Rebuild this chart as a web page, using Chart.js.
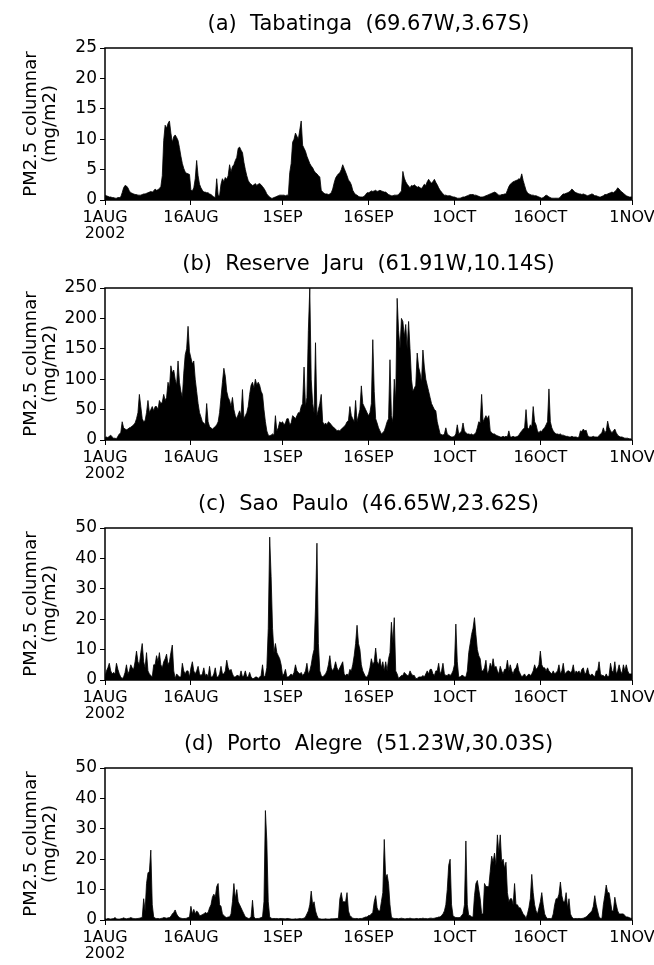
<!DOCTYPE html>
<html>
<head>
<meta charset="utf-8">
<script src="https://cdn.jsdelivr.net/npm/chart.js@4.4.1/dist/chart.umd.min.js"></script>
<style>
  body { margin: 0; background: #fff; overflow: hidden; }
  .panel { position: absolute; left: 0; width: 654px; height: 252px; }
</style>
</head>
<body>
<div class="panel" style="top:0px"><canvas id="pA" width="654" height="252"></canvas></div>
<div class="panel" style="top:240px"><canvas id="pB" width="654" height="252"></canvas></div>
<div class="panel" style="top:480px"><canvas id="pC" width="654" height="252"></canvas></div>
<div class="panel" style="top:720px"><canvas id="pD" width="654" height="252"></canvas></div>
<script>
// 6-hourly samples, 1 AUG 2002 00Z .. 1 NOV 2002 00Z (4 per day, one row per day)
const STEP = 0.25; // days per sample

const tickDays = [0, 15, 31, 46, 61, 76, 92];
const tickLabels = [['1AUG', '2002'], '16AUG', '1SEP', '16SEP', '1OCT', '16OCT', '1NOV'];

const titles = [
  '(a)  Tabatinga  (69.67W,3.67S)',
  '(b)  Reserve  Jaru  (61.91W,10.14S)',
  '(c)  Sao  Paulo  (46.65W,23.62S)',
  '(d)  Porto  Alegre  (51.23W,30.03S)'
];

const yMax = [25, 250, 50, 50];
const yStep = [5, 50, 10, 10];

const tabatinga = [
  0.8, 0.7, 0.6, 0.5,  0.5, 0.4, 0.4, 0.3,  0.3, 0.4, 0.4, 0.5,  1.2, 2.0, 2.4, 2.3,
  2.0, 1.5, 1.2, 1.1,  1.0, 0.9, 0.9, 0.8,  0.8, 0.8, 0.9, 1.0,  1.0, 1.1, 1.2, 1.3,
  1.4, 1.3, 1.5, 1.8,  1.6, 1.7, 1.9, 2.2,  4.0, 9.8, 12.3, 11.8,  12.6, 13.0, 11.0, 9.5,
  10.4, 10.7, 10.3, 9.8,  8.6, 7.2, 6.0, 5.2,  4.6, 4.4, 4.3, 4.2,  1.6, 1.5, 2.0, 3.5,
  6.5, 4.0, 2.6, 2.0,  1.6, 1.3, 1.3, 1.2,  1.2, 1.0, 0.9, 0.7,  0.5, 0.4, 3.5, 0.8,
  0.7, 2.6, 3.5, 3.0,  3.7, 3.4, 4.0, 5.8,  4.6, 5.5, 5.8, 6.5,  7.0, 8.5, 8.7, 8.2,
  7.8, 6.2, 5.0, 4.0,  3.2, 2.8, 2.6, 2.4,  2.5, 2.7, 2.4, 2.6,  2.7, 2.5, 2.2, 1.9,
  1.5, 1.0, 0.7, 0.5,  0.3, 0.3, 0.4, 0.5,  0.6, 0.7, 0.8, 0.8,  0.8, 0.8, 0.7, 0.8,
  0.8, 4.5, 6.0, 9.5,  10.0, 11.0, 10.5, 10.0,  11.5, 13.0, 9.0, 8.5,  8.0, 7.2, 6.6, 6.0,
  5.6, 5.3, 4.8, 4.5,  4.3, 4.0, 3.8, 1.6,  1.3, 1.1, 1.0, 1.0,  0.9, 1.0, 1.2, 1.8,
  2.8, 3.6, 4.0, 4.3,  4.5, 5.0, 5.8, 5.2,  4.6, 4.0, 3.3, 3.0,  2.5, 1.6, 1.2, 0.9,
  0.8, 0.6, 0.5, 0.5,  0.5, 0.6, 0.9, 1.2,  1.2, 1.3, 1.5, 1.4,  1.5, 1.6, 1.4, 1.5,
  1.6, 1.5, 1.4, 1.3,  1.3, 1.1, 0.9, 0.8,  0.7, 0.7, 0.8, 0.8,  0.8, 0.9, 1.2, 1.5,
  4.7, 3.6, 3.0, 2.6,  2.3, 2.0, 2.4, 2.3,  2.5, 2.3, 2.1, 2.2,  2.0, 1.9, 2.2, 2.6,
  2.4, 3.0, 3.4, 3.0,  2.8, 3.0, 3.4, 2.9,  2.5, 2.0, 1.6, 1.3,  1.0, 0.8, 0.8, 0.7,
  0.7, 0.7, 0.6, 0.5,  0.5, 0.4, 0.3, 0.3,  0.3, 0.4, 0.5, 0.5,  0.6, 0.7, 0.8, 0.9,
  0.9, 0.9, 0.8, 0.8,  0.7, 0.6, 0.5, 0.5,  0.5, 0.6, 0.7, 0.8,  0.9, 1.0, 1.1, 1.2,
  1.3, 1.2, 1.0, 0.8,  0.8, 0.9, 0.9, 1.0,  1.0, 1.6, 2.2, 2.6,  2.8, 3.0, 3.1, 3.2,
  3.3, 3.5, 3.4, 4.3,  3.2, 2.4, 1.6, 1.2,  1.0, 0.9, 0.8, 0.8,  0.7, 0.7, 0.6, 0.5,
  0.4, 0.3, 0.4, 0.6,  0.8, 0.7, 0.5, 0.4,  0.3, 0.3, 0.3, 0.3,  0.3, 0.3, 0.5, 0.8,
  1.0, 1.0, 1.1, 1.2,  1.3, 1.5, 1.8, 1.6,  1.3, 1.2, 1.1, 1.0,  1.0, 0.9, 1.0, 0.9,
  0.8, 0.7, 0.8, 0.9,  1.0, 0.9, 0.7, 0.7,  0.6, 0.5, 0.5, 0.6,  0.7, 0.9, 0.9, 1.0,
  1.1, 1.2, 1.3, 1.2,  1.4, 1.6, 2.0, 1.8,  1.5, 1.3, 1.1, 0.9,  0.7, 0.6, 0.5, 0.5,
  0.5
];

const reserveJaru = [
  4, 5, 4, 6,  8, 5, 3, 3,  2, 6, 10, 12,  30, 20, 18, 17,
  18, 20, 21, 23,  25, 28, 35, 45,  75, 55, 35, 30,  32, 45, 65, 45,
  50, 55, 48, 55,  55, 50, 65, 60,  62, 75, 65, 70,  95, 85, 122, 110,
  115, 100, 90, 130,  95, 80, 70, 110,  140, 150, 187, 145,  135, 125, 130, 100,
  80, 60, 45, 38,  30, 28, 25, 60,  30, 22, 20, 18,  20, 22, 25, 30,
  45, 70, 95, 118,  105, 80, 70, 65,  55, 70, 50, 40,  35, 42, 48, 40,
  83, 35, 40, 45,  55, 75, 90, 95,  85, 100, 90, 95,  90, 80, 75, 50,
  30, 15, 8, 7,  8, 10, 8, 40,  15, 20, 30, 28,  30, 25, 28, 35,
  35, 25, 28, 40,  38, 35, 40, 45,  45, 55, 60, 120,  55, 70, 180, 250,
  100, 60, 45, 160,  40, 50, 60, 75,  30, 25, 28, 25,  30, 28, 25, 22,
  20, 18, 15, 16,  15, 18, 20, 22,  25, 30, 32, 55,  40, 35, 30, 65,
  30, 40, 50, 89,  60, 55, 50, 45,  40, 45, 60, 165,  80, 35, 28, 20,
  15, 10, 12, 15,  22, 30, 35, 132,  40, 30, 100, 65,  233, 180, 150, 200,
  195, 170, 190, 150,  195, 150, 100, 80,  85, 90, 143, 120,  110, 95, 148, 120,
  100, 90, 80, 70,  60, 55, 50, 48,  30, 20, 10, 9,  8, 10, 20, 10,
  8, 6, 5, 5,  6, 10, 25, 10,  12, 15, 28, 15,  12, 10, 10, 9,
  10, 8, 10, 12,  20, 30, 28, 75,  30, 35, 40, 35,  40, 15, 12, 10,
  10, 8, 7, 6,  5, 5, 6, 5,  6, 5, 15, 5,  5, 6, 5, 5,
  6, 8, 12, 15,  18, 20, 50, 20,  18, 25, 22, 55,  30, 25, 15, 12,
  15, 14, 18, 20,  25, 30, 84, 30,  20, 15, 12, 10,  10, 9, 10, 8,
  8, 7, 6, 6,  5, 5, 6, 5,  5, 5, 4, 5,  15, 14, 18, 15,
  16, 8, 5, 5,  5, 6, 5, 5,  5, 7, 10, 12,  20, 12, 15, 31,
  20, 15, 12, 15,  18, 12, 8, 6,  5, 5, 4, 3,  3, 3, 2, 2,
  1
];

const saoPaulo = [
  1, 3, 4, 5.5,  3, 2, 2.5, 2,  5.5, 3.5, 2, 1,  0.5, 1, 2.5, 5,
  2, 3, 5, 4,  3.5, 6, 9.5, 6,  5, 9, 12, 6,  4, 9, 3, 2,
  1.5, 1, 5, 5,  8, 6, 9, 5,  4, 6, 7, 8.5,  5, 6, 9, 11.5,
  3, 0.5, 2, 1.5,  1, 1, 5.5, 3,  2, 3, 3, 1,  4, 6, 3, 2,
  3, 4.5, 2, 1.5,  2, 4, 1.5, 2,  1, 4.5, 1, 1,  2, 4, 1, 1,
  2, 4.5, 2, 2,  3, 6.5, 4, 3,  3.5, 2, 1, 1,  1.5, 1.5, 1, 3,
  1, 1.5, 3, 1,  1, 2.5, 1, 0.5,  0.5, 1, 1, 0.5,  1, 1.5, 5, 1,
  1.5, 4, 17, 47,  34, 17, 9, 12,  9, 8, 7, 5,  1.5, 2, 3.5, 1,
  1, 1.5, 2, 1.5,  2.5, 5, 3, 2.5,  2, 2.5, 1.5, 2,  3, 5.5, 2, 3,
  5, 8, 10, 24,  45, 12, 3, 1.5,  1, 1.5, 2, 3,  5, 8, 4, 3,
  4, 6, 4, 3,  4, 5, 6, 2,  1.5, 2, 1.5, 3.5,  3, 5, 8, 12,
  18, 12, 10, 5,  3, 2, 1, 1,  2, 4, 7, 5,  6, 10.5, 6, 5,
  7, 4, 6, 3,  6, 3, 7, 9,  19, 12, 20.5, 3,  2, 0.5, 1, 1.5,
  1.5, 2.5, 2, 1.5,  1.5, 3, 2, 1.5,  1.5, 0.5, 0.5, 1,  1, 1, 1.5, 1,
  2, 3, 2, 3.5,  3.5, 2, 1.5, 3,  3, 5.5, 2, 3,  5.5, 2, 1.5, 1.5,
  2, 1.5, 2, 3,  5, 18.4, 6, 1,  1, 1.5, 1.5, 1,  1, 3, 9, 12,
  15, 17, 20.5, 15,  10, 8, 7, 3,  3, 4, 6.5, 2,  3, 5.5, 4, 7,
  4, 4.5, 3, 2,  4.5, 3, 2, 3.5,  3.5, 6.5, 3, 5,  3, 2, 3.5, 4,
  5.5, 3, 2, 1,  1.5, 2, 1, 1.5,  2, 1.5, 2, 3,  5, 3.5, 4, 5,
  9.5, 5, 4, 4,  3, 4, 3, 2.5,  2, 3, 2, 2.5,  3, 5, 2, 3,
  5.5, 2, 2.5, 3,  3, 2.5, 3, 5,  2, 3, 2.5, 3,  2, 3.5, 4, 2,
  2.5, 4, 2, 1.5,  2, 1.5, 1, 3,  3, 6, 2, 1.5,  1.5, 1, 2, 1,
  1.5, 5.5, 3, 2.5,  6, 2, 3, 5,  3, 2, 5, 3,  5, 3, 2, 2,
  2
];

const portoAlegre = [
  0.4, 0.3, 0.5, 0.4,  0.3, 0.4, 0.5, 0.8,  0.4, 0.3, 0.3, 0.4,  0.5, 0.7, 0.5, 0.4,
  0.5, 0.6, 0.8, 0.6,  0.5, 0.4, 0.5, 0.5,  0.6, 0.7, 0.8, 7,  3, 12, 15.5, 16,
  23, 5, 1, 0.6,  0.5, 0.5, 0.4, 0.5,  0.6, 0.8, 0.7, 0.6,  0.7, 0.8, 1.2, 2,
  2.5, 3.3, 2, 1.2,  0.8, 0.6, 0.5, 0.5,  0.5, 0.6, 0.8, 1,  4.5, 2, 3.5, 2,
  3, 2.5, 1.5, 1.5,  1.8, 2, 2.5, 2.2,  2.5, 4, 5, 7.5,  8.5, 7.5, 11, 12,
  5, 4.5, 2, 1.5,  1, 0.8, 1, 1,  2, 6, 12, 7,  10, 6, 5, 4,
  3, 2, 1, 0.8,  0.5, 0.6, 1, 6.5,  1, 0.5, 0.5, 0.5,  0.6, 0.8, 1, 6,
  36, 26, 6, 1,  0.6, 0.5, 0.5, 0.5,  0.5, 0.4, 0.5, 0.5,  0.5, 0.4, 0.4, 0.5,
  0.5, 0.4, 0.3, 0.3,  0.3, 0.4, 0.3, 0.4,  0.5, 0.4, 0.5, 0.6,  1, 2, 3, 5,
  9.5, 5, 6, 3,  1.5, 0.5, 0.4, 0.3,  0.3, 0.3, 0.4, 0.3,  0.3, 0.3, 0.4, 0.4,
  0.4, 0.5, 0.5, 0.6,  7, 9, 6, 6,  6, 9, 3, 1.5,  1, 0.6, 0.5, 0.5,
  0.5, 0.4, 0.5, 0.5,  0.6, 0.8, 1, 1,  1.5, 1.5, 2, 2.5,  6, 8, 4, 3,
  3, 6, 9, 26.5,  14, 15, 12, 5,  1, 0.6, 0.5, 0.5,  0.5, 0.4, 0.5, 0.6,
  0.5, 0.4, 0.4, 0.5,  0.5, 0.6, 0.5, 0.4,  0.4, 0.5, 0.5, 0.4,  0.5, 0.5, 0.6, 0.5,
  0.5, 0.4, 0.5, 0.6,  0.6, 0.5, 0.6, 0.7,  0.8, 1, 1, 1.5,  2, 3, 5, 10,
  18, 20, 5, 1.5,  1, 0.8, 0.8, 0.8,  0.8, 1.5, 2, 5,  26, 5, 1.5, 1.5,
  1, 1, 8, 12,  13, 10, 7, 2,  2, 12, 11, 11,  11, 16, 21, 19,
  22, 18, 28, 22,  28, 19, 20, 17,  19, 9, 6, 7,  7, 5, 12, 5,
  5, 4, 4, 3,  2, 1.5, 0.5, 2,  4, 7, 15, 9,  5, 3, 2, 4,
  6, 9, 5, 2,  1, 0.5, 0.5, 0.5,  0.5, 2, 5, 7,  7, 8.5, 12.5, 8,
  6, 6, 9, 4,  7, 2, 1, 0.5,  0.5, 0.5, 0.5, 0.5,  0.5, 0.5, 0.6, 0.8,
  1, 1.5, 2, 2.5,  3, 4.5, 8, 5,  3, 1, 0.6, 0.5,  5, 8, 11.5, 9,
  9, 6, 3, 3,  7.5, 5, 3, 2,  2, 2, 2, 1.5,  1, 1, 0.8, 0.6,
  0.5
];

const series = [tabatinga, reserveJaru, saoPaulo, portoAlegre];
const canvasIds = ['pA', 'pB', 'pC', 'pD'];

const FONT = 'DejaVu Sans';

// box around the plot area
const frame = {
  id: 'frame',
  afterDraw(chart) {
    const { ctx, chartArea: a } = chart;
    ctx.save();
    ctx.strokeStyle = '#000';
    ctx.lineWidth = 1.5;
    ctx.strokeRect(a.left, a.top, a.right - a.left, a.bottom - a.top);
    ctx.restore();
  }
};

function renderPanel(i) {
  const canvas = document.getElementById(canvasIds[i]);
  const pts = series[i].map((v, k) => ({ x: k * STEP, y: v }));

  new Chart(canvas, {
    type: 'line',
    data: {
      datasets: [{
        data: pts,
        borderColor: '#000',
        backgroundColor: '#000',
        borderWidth: 0.8,
        pointRadius: 0,
        tension: 0,
        fill: 'origin'
      }]
    },
    options: {
      responsive: false,
      animation: false,
      devicePixelRatio: 1,
      layout: { padding: { left: 0, right: 22, top: 0, bottom: 0 } },
      plugins: {
        legend: { display: false },
        tooltip: { enabled: false },
        title: {
          display: true,
          text: titles[i],
          fullSize: false,
          color: '#000',
          font: { family: FONT, size: 21, weight: 'normal', lineHeight: 1.2 },
          padding: { top: 12, bottom: 10.8 }
        }
      },
      scales: {
        x: {
          type: 'linear',
          min: 0,
          max: 92,
          afterBuildTicks: s => { s.ticks = tickDays.map(v => ({ value: v })); },
          // plot bottom stays at y=200 of each 240px panel; the extra 12px holds "2002"
          afterFit: s => { s.height = 52; s.paddingLeft = 0; s.paddingRight = 0; },
          grid: { display: true, drawOnChartArea: false, drawTicks: true, tickLength: 5, color: '#000', lineWidth: 1 },
          border: { display: false },
          ticks: {
            color: '#000',
            font: { family: FONT, size: 16, lineHeight: 1.05 },
            padding: 4,
            maxRotation: 0,
            autoSkip: false,
            callback: v => tickLabels[tickDays.indexOf(v)]
          }
        },
        y: {
          min: 0,
          max: yMax[i],
          afterFit: s => { s.width = 105; },
          grid: { display: true, drawOnChartArea: false, drawTicks: true, tickLength: 5, color: '#000', lineWidth: 1 },
          border: { display: false },
          ticks: {
            stepSize: yStep[i],
            color: '#000',
            font: { family: FONT, size: 17 },
            padding: 3
          },
          title: {
            display: true,
            text: ['PM2.5 columnar', '(mg/m2)'],
            color: '#000',
            font: { family: FONT, size: 18, lineHeight: 1.05 },
            padding: { top: 22, bottom: 0 }
          }
        }
      }
    },
    plugins: [frame]
  });
}

canvasIds.forEach((id, i) => renderPanel(i));
</script>
</body>
</html>
